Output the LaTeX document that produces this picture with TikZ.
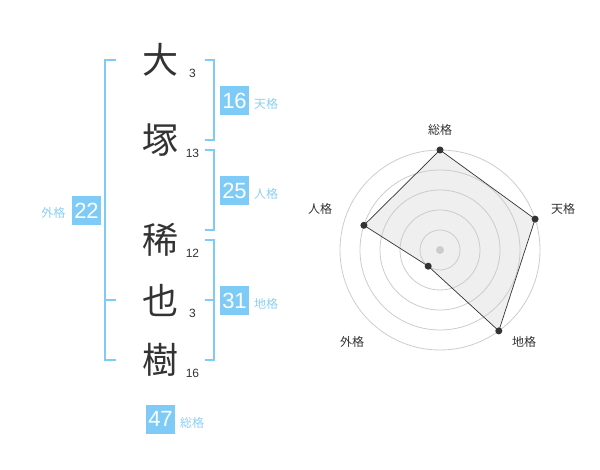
\documentclass[tikz,border=0pt]{standalone}
\usepackage{fontspec}
\setmainfont{Liberation Sans}
\newfontfamily\jp{Noto Sans CJK JP}
\definecolor{boxblue}{HTML}{7FCBF7}
\definecolor{lblblue}{HTML}{8CCFF5}
\definecolor{dark}{HTML}{333333}
\definecolor{ring}{HTML}{CCCCCC}
\definecolor{poly}{HTML}{EFEFEF}
\tikzset{
  kanji/.style={font=\jp\fontsize{36}{36}\selectfont, text=dark, inner sep=0pt},
  strokes/.style={font=\fontsize{12}{12}\selectfont, text=dark, inner sep=0pt},
  numbox/.style={fill=boxblue, text=white, minimum width=29pt, minimum height=29pt, inner sep=0pt, font=\fontsize{22}{22}\selectfont},
  kaku/.style={font=\jp\fontsize{12}{12}\selectfont, text=lblblue, inner sep=0pt},
  bracket/.style={draw=boxblue, line width=2pt},
  axislbl/.style={font=\jp\fontsize{12}{12}\selectfont, text=dark, inner sep=0pt},
  ringline/.style={draw=ring, line width=0.8pt},
  vdot/.style={circle, fill=dark, minimum size=7pt, inner sep=0pt},
}
\begin{document}
\begin{tikzpicture}[x=1pt,y=-1pt]
\path[use as bounding box] (0,0) rectangle (600,470);
% characters
\node[kanji] (c1) at (160,60) {大};
\node[kanji] (c2) at (160,140) {塚};
\node[kanji] (c3) at (160,240) {稀};
\node[kanji] (c4) at (160,300) {也};
\node[kanji] (c5) at (160,360) {樹};
\node[strokes] (s1) at (192.5,73) {3};
\node[strokes] (s2) at (192.5,153) {13};
\node[strokes] (s3) at (192.5,253) {12};
\node[strokes] (s4) at (192.5,313) {3};
\node[strokes] (s5) at (192.5,373) {16};
% bracket coordinates
\coordinate (La) at (116,60); \coordinate (Lb) at (105,60);
\coordinate (Lc) at (105,360); \coordinate (Ld) at (116,360);
\coordinate (Lm) at (105,300); \coordinate (Lt) at (116,300);
\draw[bracket] (La) -- (Lb) -- (Lc) -- (Ld);
\draw[bracket] (Lm) -- (Lt);
\coordinate (Ta) at (205,60); \coordinate (Tb) at (214,60);
\coordinate (Tc) at (214,140); \coordinate (Td) at (205,140);
\draw[bracket] (Ta) -- (Tb) -- (Tc) -- (Td);
\coordinate (Ja) at (205,150); \coordinate (Jb) at (214,150);
\coordinate (Jc) at (214,230); \coordinate (Jd) at (205,230);
\draw[bracket] (Ja) -- (Jb) -- (Jc) -- (Jd);
\coordinate (Ca) at (205,240); \coordinate (Cb) at (214,240);
\coordinate (Cc) at (214,360); \coordinate (Cd) at (205,360);
\coordinate (Cm) at (214,300); \coordinate (Ct) at (205,300);
\draw[bracket] (Ca) -- (Cb) -- (Cc) -- (Cd);
\draw[bracket] (Cm) -- (Ct);
% boxes
\node[numbox] (g22) at (86.5,210.5) {22};
\node[kaku] (k22) at (53.5,213) {外格};
\node[numbox] (g16) at (234.5,100.5) {16};
\node[kaku] (k16) at (266,104) {天格};
\node[numbox] (g25) at (234.5,190.5) {25};
\node[kaku] (k25) at (266,194) {人格};
\node[numbox] (g31) at (234.5,300.5) {31};
\node[kaku] (k31) at (266,304) {地格};
\node[numbox] (g47) at (160.5,419) {47};
\node[kaku] (k47) at (192,422.5) {総格};
% radar
\coordinate (O) at (440,250);
\coordinate (pS) at (440,150);
\coordinate (pT) at (535.1,219.1);
\coordinate (pC) at (498.8,330.9);
\coordinate (pG) at (428.2,266.2);
\coordinate (pJ) at (363.9,225.3);
\fill[poly] (pS) -- (pT) -- (pC) -- (pG) -- (pJ) -- cycle;
\foreach \r in {20,40,60,80,100} \draw[ringline] (O) circle[radius=\r];
\fill[ring] (O) circle[radius=4];
\draw[draw=dark, line width=0.7pt] (pS) -- (pT) -- (pC) -- (pG) -- (pJ) -- cycle;
\foreach \p in {pS,pT,pC,pG,pJ} \node[vdot] at (\p) {};
\node[axislbl] (aS) at (440,130) {総格};
\node[axislbl] (aT) at (563,209) {天格};
\node[axislbl] (aC) at (524,342) {地格};
\node[axislbl] (aG) at (352,342) {外格};
\node[axislbl] (aJ) at (320,209) {人格};
\end{tikzpicture}
\end{document}
